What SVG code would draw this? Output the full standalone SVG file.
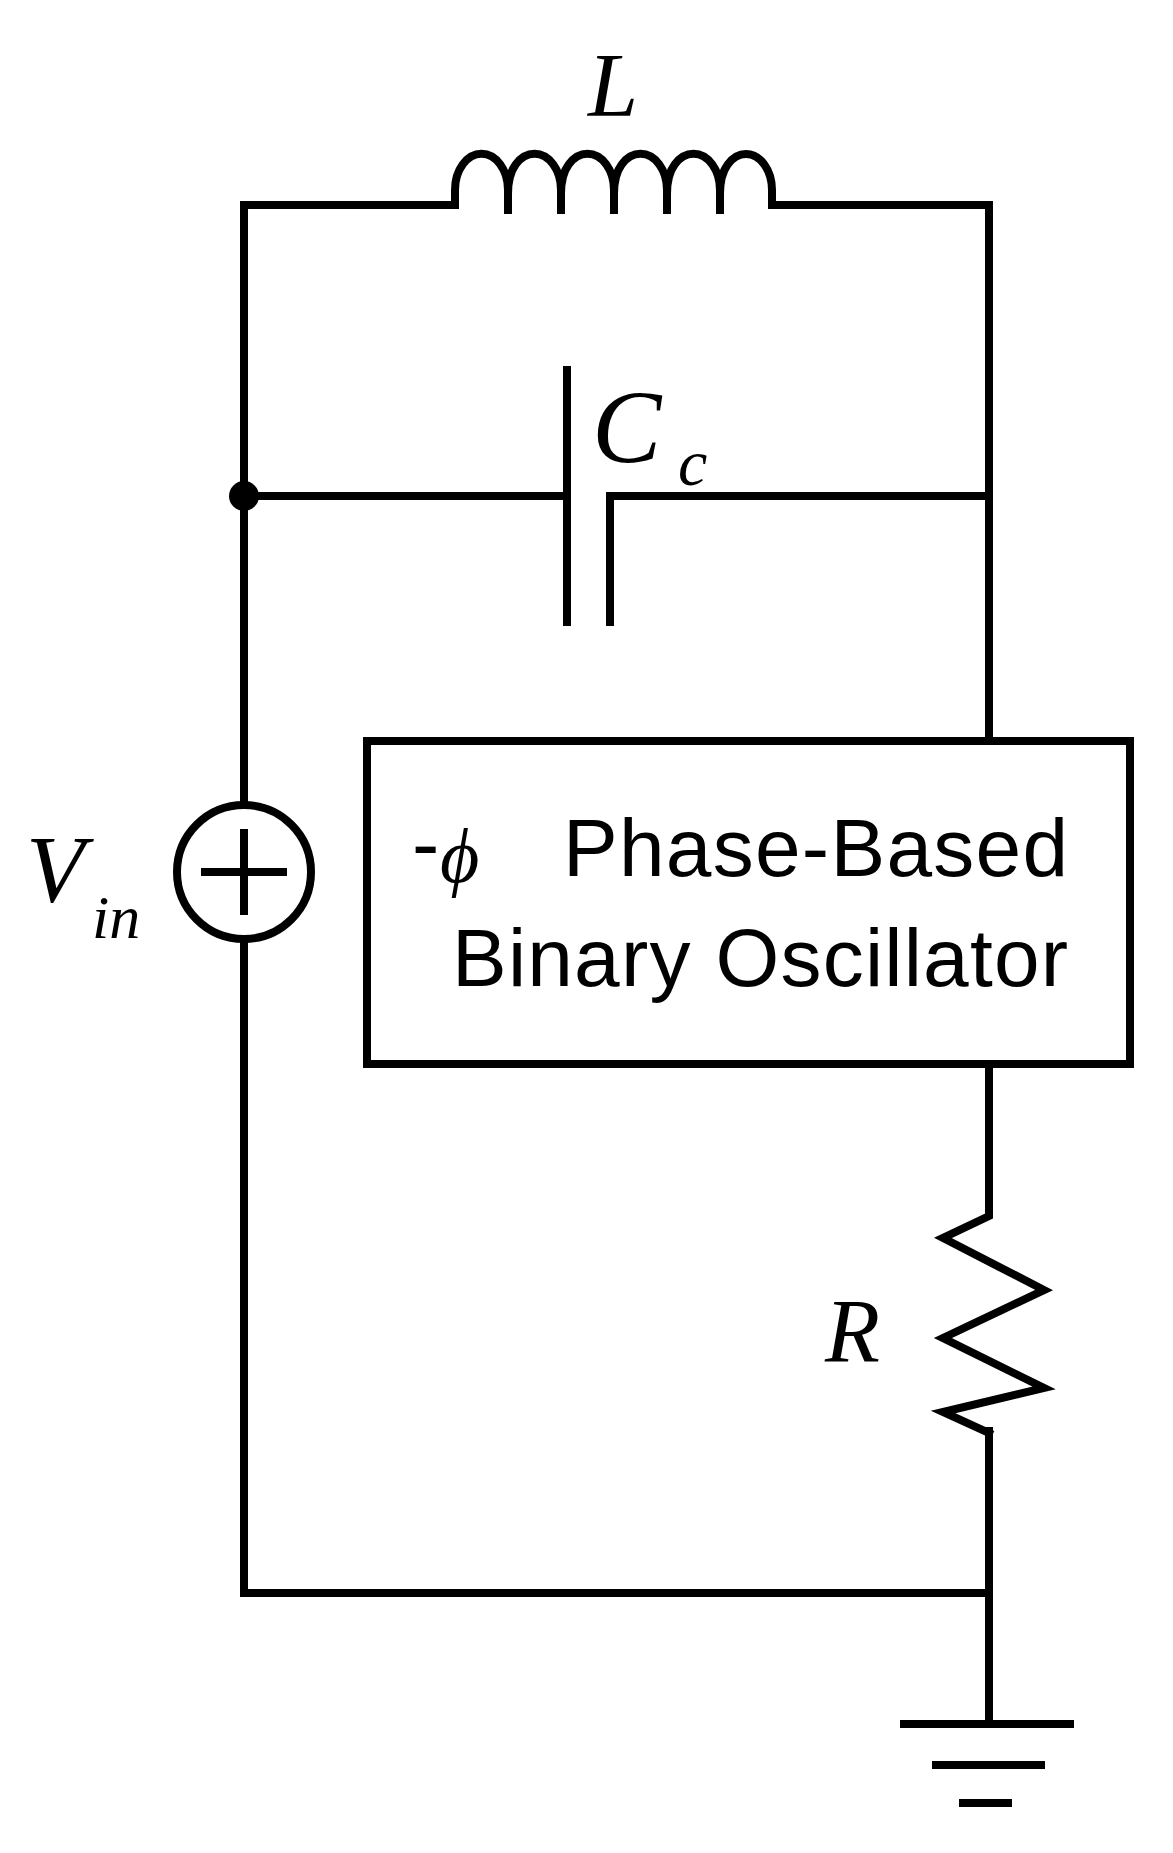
<svg xmlns="http://www.w3.org/2000/svg" width="1173" height="1853" viewBox="0 0 1173 1853">
<style>
.w{fill:none;stroke:#000;stroke-width:8;stroke-linecap:square;stroke-linejoin:miter}
.m{font-family:"Liberation Serif",serif;font-style:italic;fill:#000}
.s{font-family:"Liberation Sans",Arial,sans-serif;fill:#000;font-size:82px}
</style>
<rect width="1173" height="1853" fill="#fff"/>
<g id="wires">
<path class="w" d="M455 205 H244 V805 M244 939 V1593 H989 V1724"/>
<path class="w" d="M772 205 H989 V741 M989 1064 V1196 M989 1431 V1593"/>
<path class="w" d="M244 496 H567 M610 496 H989"/>
</g>
<g id="inductor"><path class="w" d="M455 205 V190 A26.4 36 0 0 1 508 190 V210 M508 190 A26.4 36 0 0 1 561 190 V210 M561 190 A26.4 36 0 0 1 614 190 V210 M614 190 A26.4 36 0 0 1 667 190 V210 M667 190 A26.4 36 0 0 1 720 190 V210 M720 190 A26 36 0 0 1 772 190 V205"/>
<text class="m" x="588" y="116" font-size="90">L</text></g>
<g id="capacitor"><path class="w" d="M567 370 V622 M610 499 V622"/>
<text class="m" x="592" y="462" font-size="104">C</text><text class="m" x="678" y="485" font-size="66">c</text></g>
<g id="node"><circle cx="244" cy="496" r="15" fill="#000"/></g>
<g id="source"><circle class="w" cx="244" cy="872" r="67"/><path class="w" d="M205 872 H283 M244 833 V911"/>
<text class="m" x="26" y="902" font-size="96">V</text><text class="m" x="92" y="938" font-size="62">in</text></g>
<g id="oscillator"><rect class="w" x="367" y="741" width="763" height="323"/>
<text class="s" x="412" y="872" font-size="50">-</text><text class="m" x="440" y="882" font-size="76">ϕ</text>
<text class="s" x="563" y="876" textLength="505">Phase-Based</text>
<text class="s" x="452" y="986" textLength="616">Binary Oscillator</text></g>
<g id="resistor"><path class="w" d="M989 1196 V1216 L943 1238 L1044 1290 L943 1338 L1044 1388 L943 1412 L989 1433"/>
<text class="m" x="825" y="1362" font-size="90">R</text></g>
<g id="ground"><path class="w" d="M904 1724 H1070 M936 1765 H1041 M963 1803 H1008"/></g>
</svg>
